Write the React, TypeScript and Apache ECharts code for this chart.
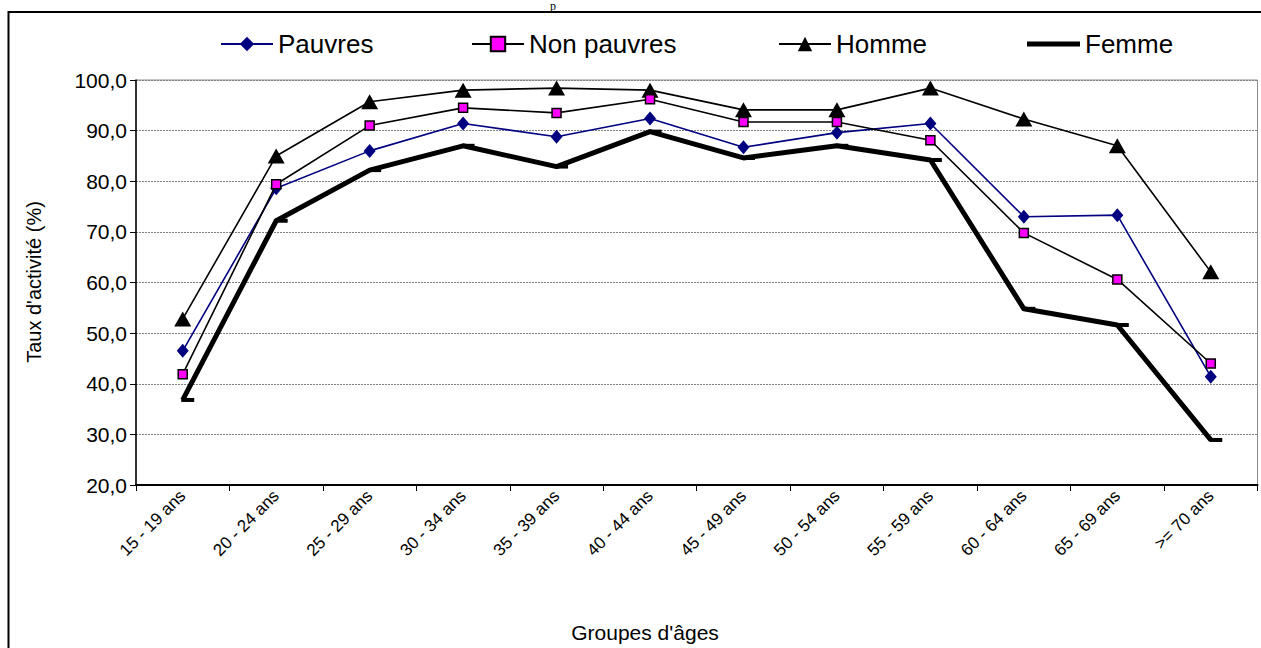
import React, { useEffect, useRef } from "react";
import * as echarts from "echarts";

const categories = [
  "15 - 19 ans", "20 - 24 ans", "25 - 29 ans", "30 - 34 ans", "35 - 39 ans", "40 - 44 ans",
  "45 - 49 ans", "50 - 54 ans", "55 - 59 ans", "60 - 64 ans", "65 - 69 ans", ">= 70 ans",
];
const pauvres = [46.5, 78.6, 86.0, 91.4, 88.8, 92.4, 86.7, 89.6, 91.4, 73.0, 73.3, 41.4];
const nonPauvres = [41.9, 79.4, 91.0, 94.5, 93.5, 96.2, 91.7, 91.7, 88.1, 69.8, 60.6, 44.0];
const homme = [52.8, 85.0, 95.7, 98.0, 98.4, 98.0, 94.1, 94.1, 98.4, 92.3, 87.0, 62.1];
const femme = [36.8, 72.2, 82.2, 87.0, 82.9, 89.8, 84.6, 87.0, 84.2, 54.8, 51.6, 28.9];

const yMin = 20;
const yMax = 100;
const yStep = 10;

const FONT = "Liberation Sans, Arial, sans-serif";

export default function App() {
  const ref = useRef<HTMLDivElement>(null);
  useEffect(() => {
    if (!ref.current) return;
    const chart = echarts.init(ref.current, null, { renderer: "svg" });
    const legendText = { fontFamily: FONT, fontSize: 26, color: "#000" };
    chart.setOption({
      animation: false,
      backgroundColor: "#fff",
      grid: {
        left: 136, right: 3.5, top: 80, bottom: 163,
        show: true, borderColor: "#8c8c8c", borderWidth: 1, backgroundColor: "transparent",
      },
      legend: [
        { data: ["Pauvres"], left: 215, top: 26, itemWidth: 52, itemHeight: 18, textStyle: legendText },
        { data: ["Non pauvres"], left: 466, top: 26, itemWidth: 52, itemHeight: 18, textStyle: legendText },
        { data: ["Homme"], left: 773, top: 26, itemWidth: 52, itemHeight: 18, textStyle: legendText },
        { data: ["Femme"], left: 1022, top: 26, itemWidth: 53, itemHeight: 5, icon: "rect", textStyle: legendText },
      ],
      xAxis: {
        type: "category",
        data: categories,
        boundaryGap: true,
        axisLine: { lineStyle: { color: "#000", width: 2 } },
        axisTick: { show: true, length: 6, lineStyle: { color: "#000", width: 1 } },
        axisLabel: { rotate: 45, fontFamily: FONT, fontSize: 17, color: "#000", margin: 8, interval: 0 },
        splitLine: { show: false },
      },
      yAxis: {
        type: "value",
        min: yMin, max: yMax, interval: yStep,
        axisLine: { show: true, lineStyle: { color: "#000", width: 1.5 } },
        axisTick: { show: true, length: 6, lineStyle: { color: "#000" } },
        axisLabel: {
          fontFamily: FONT, fontSize: 21, color: "#000", margin: 9,
          formatter: (v: number) => v.toFixed(1).replace(".", ","),
        },
        splitLine: { show: true, lineStyle: { color: "#808080", width: 1, type: [2, 1] } },
      },
      series: [
        {
          name: "Pauvres", type: "line", data: pauvres,
          symbol: "diamond", symbolSize: [12, 14],
          lineStyle: { color: "#000080", width: 1.6 },
          itemStyle: { color: "#000080" }, z: 4,
        },
        {
          name: "Non pauvres", type: "line", data: nonPauvres,
          symbol: "rect", symbolSize: 9,
          lineStyle: { color: "#000", width: 1.6 },
          itemStyle: { color: "#ff00ff", borderColor: "#000", borderWidth: 1.5 }, z: 5,
        },
        {
          name: "Homme", type: "line", data: homme,
          symbol: "triangle", symbolSize: [17, 15],
          lineStyle: { color: "#000", width: 1.6 },
          itemStyle: { color: "#000" }, z: 3,
        },
        {
          name: "Femme", type: "line", data: femme,
          symbol: "rect", symbolSize: [13, 4], symbolOffset: [5, 0],
          lineStyle: { color: "#000", width: 5 },
          itemStyle: { color: "#000" }, z: 2,
        },
      ],
      graphic: [
        {
          type: "rect", silent: true,
          shape: { x: 8.5, y: 12, width: 1300, height: 700 },
          style: { fill: "none", stroke: "#000", lineWidth: 2 },
        },
        {
          type: "text", x: 553, y: 0,
          style: { text: "p", fontFamily: "Liberation Serif, serif", fontSize: 12, fill: "#000", align: "center", verticalAlign: "top" },
        },
        {
          type: "text", x: 34, y: 282, rotation: Math.PI / 2,
          style: { text: "Taux d'activité (%)", fontFamily: FONT, fontSize: 20, fill: "#000", align: "center", verticalAlign: "middle" },
        },
        {
          type: "text", x: 645, y: 632,
          style: { text: "Groupes d'âges", fontFamily: FONT, fontSize: 21, fill: "#000", align: "center", verticalAlign: "middle" },
        },
      ],
    });
    return () => chart.dispose();
  }, []);
  return <div ref={ref} style={{ position: "fixed", left: 0, top: 0, width: 1261, height: 648 }} />;
}
